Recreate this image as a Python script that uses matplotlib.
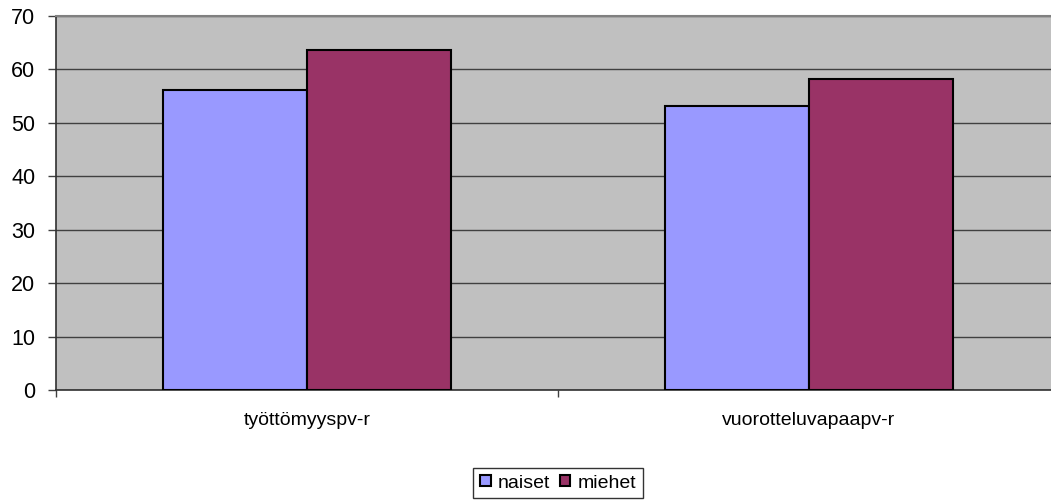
import numpy as np
import matplotlib.pyplot as plt

categories = ['työttömyyspv-r', 'vuorotteluvapaapv-r']
naiset = [56.1, 53.1]
miehet = [63.7, 58.2]
series_names = ['naiset', 'miehet']
colors = ['#9999FF', '#993366']

plt.rcParams['font.family'] = ['Liberation Sans', 'DejaVu Sans']

fig = plt.figure(figsize=(10.51, 5.04), dpi=100)
W, H = 1051, 504
left, right, top, bottom = 56, 1060, 16, 390
ax = fig.add_axes([left / W, 1 - bottom / H, (right - left) / W, (bottom - top) / H])
ax.set_facecolor('#C0C0C0')

x = np.arange(len(categories))
w = 0.287
b1 = ax.bar(x - w / 2, naiset, w, color=colors[0], edgecolor='black', linewidth=1.5,
            label=series_names[0], zorder=3)
b2 = ax.bar(x + w / 2, miehet, w, color=colors[1], edgecolor='black', linewidth=1.5,
            label=series_names[1], zorder=3)

ax.set_xlim(-0.5, 1.5)
ax.set_ylim(0, 70)
ax.set_yticks(np.arange(0, 71, 10))
ax.yaxis.grid(True, color='#404040', linewidth=1.0, zorder=1)
ax.set_axisbelow(True)

ax.set_xticks([-0.5, 0.5, 1.5])
ax.set_xticklabels([])
ax.set_xticks(x, minor=True)
ax.set_xticklabels(categories, minor=True, fontsize=14)
ax.tick_params(axis='x', which='minor', length=0, pad=16)
ax.tick_params(axis='x', which='major', length=5, width=1, color='#404040', direction='out')
ax.tick_params(axis='y', length=6, width=1, color='#404040', labelsize=15.5, pad=9)

for s in ['left', 'bottom']:
    ax.spines[s].set_color('#303030')
    ax.spines[s].set_linewidth(1.2)
ax.spines['top'].set_color('#808080')
ax.spines['top'].set_linewidth(1.5)
ax.spines['right'].set_visible(False)

leg = fig.legend(handles=[b1, b2], loc='center', bbox_to_anchor=(558 / W, 1 - 483 / H),
                 ncol=2, fontsize=14, frameon=True, fancybox=False, edgecolor='black',
                 handlelength=0.55, handleheight=0.55, handletextpad=0.35, columnspacing=0.5,
                 borderpad=0.35, borderaxespad=0)
leg.get_frame().set_linewidth(1.0)

fig.savefig('out.png', dpi=100)
